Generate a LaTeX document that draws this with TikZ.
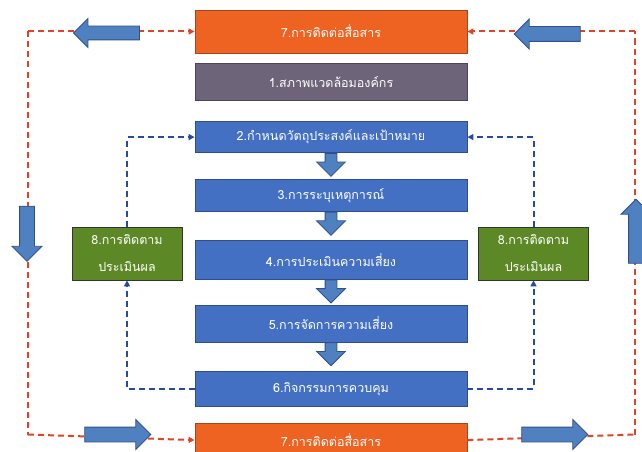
\documentclass[tikz,border=0pt]{standalone}
\usepackage{fontspec}
\newfontfamily\thaifont[Script=Thai]{Loma}
\usepackage{xcolor}
\usepackage{tikz}
\usetikzlibrary{positioning,shapes.arrows,arrows.meta}

\definecolor{boxorange}{RGB}{238,98,34}
\definecolor{boxgrey}{RGB}{110,100,122}
\definecolor{boxblue}{RGB}{68,112,196}
\definecolor{boxgreen}{RGB}{92,136,38}
\definecolor{arrfill}{RGB}{79,128,192}
\definecolor{arrline}{RGB}{50,80,140}
\definecolor{dashred}{RGB}{226,66,38}
\definecolor{dashblue}{RGB}{40,72,165}

\begin{document}
\begin{tikzpicture}[
x=1pt, y=-1pt,
box/.style={draw=#1!70!black, fill=#1, line width=0.8pt, minimum width=272pt, text=white, font=\thaifont\fontsize{12.5}{14}\selectfont},
gbox/.style={box=boxgreen, draw=black!80, minimum width=110pt, minimum height=53pt, align=center, font=\thaifont\fontsize{12.5}{27}\selectfont},
bigarr/.style={single arrow, draw=arrline, fill=arrfill, line width=0.8pt, inner xsep=0pt, inner ysep=7pt, single arrow head extend=7.5pt, minimum height=66pt},
downarr/.style={bigarr, rotate=-90, anchor=tail, inner ysep=5.5pt, single arrow head extend=8.5pt, minimum height=23pt},
rdash/.style={dashred, line width=2pt, dash pattern=on 6pt off 4pt},
bdash/.style={dashblue, line width=2pt, dash pattern=on 6pt off 4pt},
tip/.style={-{Triangle[length=6pt,width=6pt]}}
]
\clip (0,0) rectangle (642,452);

% main column
\node[box=boxorange, minimum height=43pt] (top7) at (331,31.5) {7.การติดต่อสื่อสาร};
\node[box=boxgrey, minimum height=37pt, below=10pt of top7] (b1) {1.สภาพแวดล้อมองค์กร};
\node[box=boxblue, minimum height=31pt, below=20pt of b1] (b2) {2.กำหนดวัตถุประสงค์และเป้าหมาย};
\node[box=boxblue, minimum height=32pt, below=26pt of b2] (b3) {3.การระบุเหตุการณ์};
\node[box=boxblue, minimum height=39pt, below=28pt of b3] (b4) {4.การประเมินความเสี่ยง};
\node[box=boxblue, minimum height=37pt, below=25pt of b4] (b5) {5.การจัดการความเสี่ยง};
\node[box=boxblue, minimum height=35pt, below=29pt of b5] (b6) {6.กิจกรรมการควบคุม};
\node[box=boxorange, minimum height=33pt, below=16pt of b6] (b7) {7.การติดต่อสื่อสาร};

% monitoring boxes
\node[gbox] (g1) at (127,253.5) {8.การติดตาม\\ประเมินผล};
\node[gbox] (g2) at (533.5,253.5) {8.การติดตาม\\ประเมินผล};

\coordinate (cTL) at (28,31.5);
\coordinate (cBL) at (28,434.5);
\coordinate (cTR) at (635,31.5);
\coordinate (cBR) at (635,434.5);

% outer loops
\draw[rdash, tip] (cTL) -- (top7.west);
\draw[rdash] (cTL) -- (cBL);
\draw[rdash, tip] (cBL) -- (b7.west);
\draw[rdash, tip] (cTR) -- (top7.east);
\draw[rdash] (cBR) -- (cTR);
\draw[rdash] (b7.east) -- (cBR);

% monitoring loops
\draw[bdash, tip] (g1.north) |- (b2.west);
\draw[bdash, tip] (b6.west) -| (g1.south);
\draw[bdash, tip] (g2.north) |- (b2.east);
\draw[bdash, tip] (b6.east) -| (g2.south);

% block arrows
\node[bigarr, rotate=180, inner ysep=6.5pt] (aTL) at (110,33) {};
\node[bigarr] (aBL) at (114,434.5) {};
\node[bigarr, rotate=-90, minimum height=55pt] (aL) at (27,230) {};
\node[bigarr, rotate=180] (aTR) at (551,34) {};
\node[bigarr] (aBR) at (551,434.5) {};
\node[bigarr, rotate=90, minimum height=64pt] (aR) at (636,235) {};

\node[downarr] (d23) at (b2.south) {};
\node[downarr] (d34) at (b3.south) {};
\node[downarr] (d45) at (b4.south) {};
\node[downarr] (d56) at (b5.south) {};
\end{tikzpicture}
\end{document}
